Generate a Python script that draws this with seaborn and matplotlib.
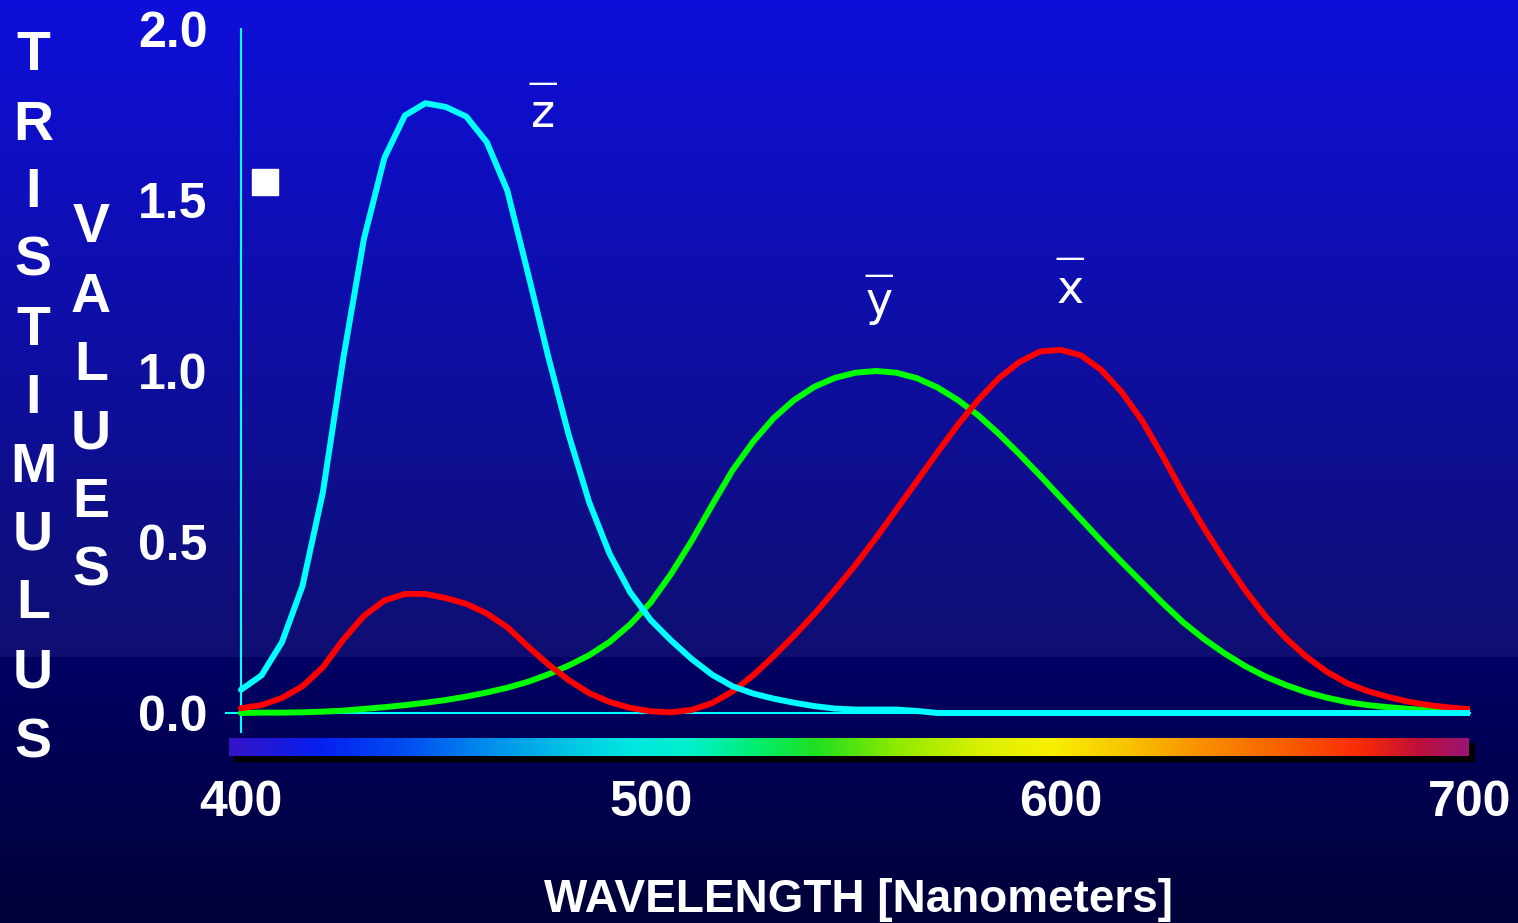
import numpy as np
import pandas as pd
import matplotlib
matplotlib.use('Agg')
import matplotlib.pyplot as plt
import seaborn as sns
from matplotlib.colors import LinearSegmentedColormap
from matplotlib.patches import Rectangle

# ------------------------------------------------------------------
# Data: tristimulus (colour matching) values, 5 nm steps
# ------------------------------------------------------------------
wavelength = list(range(400, 705, 5))

x_bar = [0.014, 0.023, 0.044, 0.078, 0.134, 0.215, 0.284, 0.329, 0.348, 0.348,
         0.336, 0.319, 0.291, 0.251, 0.195, 0.142, 0.096, 0.058, 0.032, 0.015,
         0.005, 0.002, 0.009, 0.029, 0.063, 0.110, 0.166, 0.226, 0.290, 0.360,
         0.433, 0.512, 0.595, 0.678, 0.762, 0.843, 0.916, 0.979, 1.026, 1.057,
         1.062, 1.046, 1.003, 0.938, 0.854, 0.751, 0.642, 0.542, 0.448, 0.361,
         0.284, 0.219, 0.165, 0.121, 0.087, 0.064, 0.047, 0.033, 0.023, 0.016,
         0.011]

y_bar = [0.000, 0.001, 0.001, 0.002, 0.004, 0.007, 0.012, 0.017, 0.023, 0.030,
         0.038, 0.048, 0.060, 0.074, 0.091, 0.113, 0.139, 0.169, 0.208, 0.259,
         0.323, 0.407, 0.503, 0.608, 0.710, 0.793, 0.862, 0.915, 0.954, 0.980,
         0.995, 1.000, 0.995, 0.979, 0.952, 0.915, 0.870, 0.816, 0.757, 0.695,
         0.631, 0.567, 0.503, 0.441, 0.381, 0.321, 0.265, 0.217, 0.175, 0.138,
         0.107, 0.082, 0.061, 0.045, 0.032, 0.023, 0.017, 0.012, 0.008, 0.006,
         0.004]

z_bar = [0.068, 0.110, 0.207, 0.371, 0.646, 1.039, 1.386, 1.623, 1.747, 1.783,
         1.772, 1.744, 1.669, 1.528, 1.288, 1.042, 0.813, 0.616, 0.465, 0.353,
         0.272, 0.212, 0.158, 0.112, 0.078, 0.057, 0.042, 0.030, 0.020, 0.013,
         0.010, 0.010, 0.010, 0.006, 0.000, 0.000, 0.000, 0.000, 0.000, 0.000,
         0.000, 0.000, 0.000, 0.000, 0.000, 0.000, 0.000, 0.000, 0.000, 0.000,
         0.000, 0.000, 0.000, 0.000, 0.000, 0.000, 0.000, 0.000, 0.000, 0.000,
         0.000]

curve_names  = ['y', 'x', 'z']           # draw order: green, red, cyan on top
curve_colors = {'x': '#ff0000', 'y': '#00ff00', 'z': '#00ffff'}

x_ticks       = [400, 450, 500, 550, 600, 650, 700]
x_tick_labels = ['400', '', '500', '', '600', '', '700']
y_ticks       = [0.0, 0.5, 1.0, 1.5, 2.0]
y_tick_labels = ['0.0', '0.5', '1.0', '1.5', '2.0']

ylabel_outer = 'TRISTIMULUS'
ylabel_inner = 'VALUES'
xlabel       = 'WAVELENGTH [Nanometers]'

# spectrum strip colours (nm, colour)
strip_nm     = [396, 418, 440, 460, 480, 495, 510, 525, 540, 560,
                580, 598, 615, 635, 655, 675, 688, 700]
strip_colors = ['#3414c8', '#0520f0', '#0050f0', '#0090ec', '#00c8e4', '#00e8e0',
                '#00f0c8', '#00ee70', '#20e020', '#90ea00', '#d8f000', '#f8f000',
                '#f8c800', '#f89000', '#f86000', '#f82808', '#c01038', '#9a1470']

W, H = 1518, 923
BOLD = ['Liberation Sans', 'DejaVu Sans']

sns.set_style('white')
plt.rcParams['font.family'] = ['DejaVu Sans']

df = pd.DataFrame({
    'wavelength': wavelength * 3,
    'value': x_bar + y_bar + z_bar,
    'curve': ['x'] * len(x_bar) + ['y'] * len(y_bar) + ['z'] * len(z_bar),
})

fig = plt.figure(figsize=(W / 100, H / 100), dpi=100)

# ------------------------------------------------------------------
# background gradient
# ------------------------------------------------------------------
rows = np.arange(H)
r = np.where(rows <= 656, np.interp(rows, [0, 656], [14, 15]), 0)
g = np.where(rows <= 656, np.interp(rows, [0, 656], [14, 15]), 0)
b = np.where(rows <= 656, np.interp(rows, [0, 656], [218, 114]),
             np.interp(rows, [657, H - 1], [100, 56]))
grad = np.stack([r, g, b], axis=1)[:, None, :].repeat(2, axis=1) / 255.0
bg = fig.add_axes([0, 0, 1, 1], zorder=-5)
bg.imshow(grad, aspect='auto', extent=[0, 1, 0, 1])
bg.axis('off')

# ------------------------------------------------------------------
# main axes
# ------------------------------------------------------------------
x_left_px, x_right_px = 226, 1470
y_top_px, y_bot_px = 29, 732
ax = fig.add_axes([x_left_px / W, 1 - y_bot_px / H,
                   (x_right_px - x_left_px) / W, (y_bot_px - y_top_px) / H])
ax.set_facecolor('none')

sns.lineplot(data=df, x='wavelength', y='value', hue='curve',
             hue_order=curve_names, palette=curve_colors, linewidth=4.3,
             legend=False, ax=ax, solid_capstyle='round', solid_joinstyle='round')

px_per_nm = (1470 - 241) / 300
ax.set_xlim(400 - (241 - x_left_px) / px_per_nm, 700)
ax.set_ylim(-(y_bot_px - 713) / 342, 2.0)

for side in ['top', 'right']:
    ax.spines[side].set_visible(False)
ax.spines['left'].set_position(('data', 400))
ax.spines['bottom'].set_position(('data', 0))
for side in ['left', 'bottom']:
    ax.spines[side].set_color('#00ffff')
    ax.spines[side].set_linewidth(1.5)
    ax.spines[side].set_zorder(1)

ax.set_xticks(x_ticks)
ax.set_xticklabels(x_tick_labels)
ax.set_yticks(y_ticks)
ax.set_yticklabels(y_tick_labels)
ax.tick_params(axis='both', direction='out', length=11, width=1.5, color='#00ffff',
               labelcolor='white')
ax.tick_params(axis='x', pad=37)
ax.tick_params(axis='y', pad=13)
for lab in ax.get_xticklabels() + ax.get_yticklabels():
    lab.set_fontfamily(BOLD)
    lab.set_fontweight('bold')
    lab.set_fontsize(36)
ax.set_xlabel('')
ax.set_ylabel('')

# curve labels with overbars
for letter, lx, ly, by in [('z', 473.7, 1.75, 1.842),
                           ('y', 555.7, 1.20, 1.28),
                           ('x', 602.3, 1.235, 1.33)]:
    ax.text(lx, ly, letter, color='white', fontsize=33, ha='center', va='center')
    ax.text(lx, by, '\u2014', color='white', fontsize=22, ha='center', va='center')

# stray bullet
ax.plot([405.9], [1.553], marker='s', markersize=19, color='white', linestyle='none')

# ------------------------------------------------------------------
# spectrum strip with drop shadow
# ------------------------------------------------------------------
s_left, s_right, s_top, s_bot = 229, 1469, 738, 756
fig.patches.append(Rectangle(((s_left + 5) / W, 1 - (s_bot + 5) / H),
                             (s_right - s_left) / W, (s_bot - s_top) / H,
                             transform=fig.transFigure, color='black', zorder=0))
strip_ax = fig.add_axes([s_left / W, 1 - s_bot / H, (s_right - s_left) / W, (s_bot - s_top) / H],
                        zorder=1)
lo, hi = strip_nm[0], strip_nm[-1]
cmap = LinearSegmentedColormap.from_list(
    'spectrum', [((n - lo) / (hi - lo), c) for n, c in zip(strip_nm, strip_colors)])
strip_ax.imshow(np.linspace(0, 1, 600)[None, :], aspect='auto', cmap=cmap,
                extent=[0, 1, 0, 1])
strip_ax.axis('off')

# ------------------------------------------------------------------
# axis titles
# ------------------------------------------------------------------
outer_y = [50, 120, 187, 255, 325, 393, 462, 530, 598, 667, 737]
inner_y = [222, 292, 360, 428, 497, 566]
for ch, yc in zip(ylabel_outer, outer_y):
    fig.text(33 / W, 1 - (yc + 20) / H, ch, color='white', fontsize=40,
             fontweight='bold', family=BOLD, ha='center', va='baseline')
for ch, yc in zip(ylabel_inner, inner_y):
    fig.text(91 / W, 1 - (yc + 20) / H, ch, color='white', fontsize=40,
             fontweight='bold', family=BOLD, ha='center', va='baseline')

fig.text(859 / W, 1 - 912 / H, xlabel, color='white', fontsize=33,
         fontweight='bold', family=BOLD, ha='center', va='baseline')

fig.savefig('out.png', dpi=100, facecolor='#000040')
plt.close(fig)
